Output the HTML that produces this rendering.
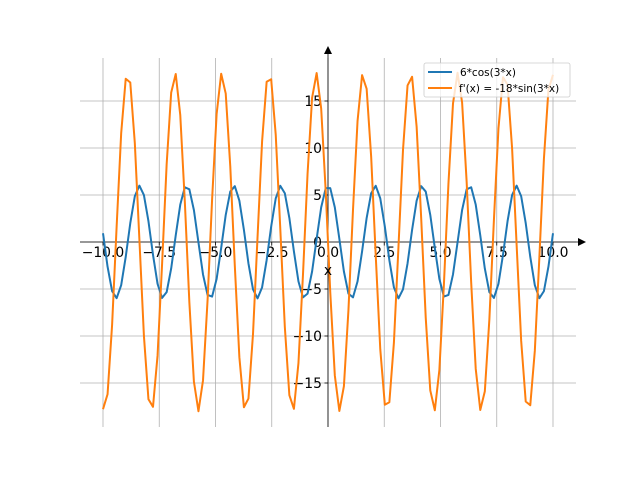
<!DOCTYPE html>
<html><head><meta charset="utf-8"><style>html,body{margin:0;padding:0;background:#fff}svg{display:block}</style></head>
<body>
<svg id="s" width="640" height="480" xmlns="http://www.w3.org/2000/svg" font-family="DejaVu Sans, Liberation Sans, sans-serif">
<defs><clipPath id="c"><rect x="80" y="58" width="496" height="369"/></clipPath></defs>
<g id="grid" stroke="#b0b0b0" stroke-width="0.8"></g>
<g id="axes" stroke="#000" stroke-width="0.8">
<line x1="80" y1="242" x2="580" y2="242"/>
<line x1="328" y1="427" x2="328" y2="53"/>
</g>
<polygon points="586,242 578,238 578,246" fill="#000"/>
<polygon points="328,46 324,54 332,54" fill="#000"/>
<g id="ticks" stroke="#000" stroke-width="0.8"></g>
<g id="labels" font-size="13.9" fill="#000"></g>
<g clip-path="url(#c)" fill="none" stroke-width="2" stroke-linejoin="round">
<polyline id="b" stroke="#1f77b4"/>
<polyline id="o" stroke="#ff7f0e"/>
</g>
<text x="328" y="275" font-size="13.9" text-anchor="middle">x</text>
<rect x="424" y="63" width="146" height="34" rx="2" fill="#fff" fill-opacity="0.8" stroke="#ccc" stroke-width="0.8"/>
<line x1="428" y1="72" x2="452" y2="72" stroke="#1f77b4" stroke-width="2"/>
<line x1="428" y1="88" x2="452" y2="88" stroke="#ff7f0e" stroke-width="2"/>
<text x="460" y="76" font-size="10.5">6*cos(3*x)</text>
<text x="459" y="92" font-size="10.5">f'(x) = -18*sin(3*x)</text>
</svg>
<script>
var NS="http://www.w3.org/2000/svg";
function X(v){return 328+v*22.5}function Y(v){return 242-v*9.4}
function el(p,t,a,txt){var e=document.createElementNS(NS,t);for(var k in a)e.setAttribute(k,a[k]);if(txt!=null)e.textContent=txt;document.getElementById(p).appendChild(e);}
for(var i=-4;i<=4;i++){var v=i*2.5,x=X(v);
el("grid","line",{x1:x,y1:58,x2:x,y2:427});
el("ticks","line",{x1:x,y1:242,x2:x,y2:245.5});
el("labels","text",{x:x,y:257,"text-anchor":"middle"},(v<0?"\u2212":"")+Math.abs(v).toFixed(1));}
for(var j=-3;j<=3;j++){var v=j*5,y=Y(v);
el("grid","line",{x1:80,y1:y,x2:576,y2:y});
el("ticks","line",{x1:328,y1:y,x2:324.5,y2:y});
el("labels","text",{x:322,y:y+5,"text-anchor":"end"},(v<0?"\u2212":"")+Math.abs(v));}
var pb=[],po=[];for(var k=0;k<100;k++){var t=-10+20*k/99;pb.push(X(t).toFixed(2)+","+Y(6*Math.cos(3*t)).toFixed(2));po.push(X(t).toFixed(2)+","+Y(-18*Math.sin(3*t)).toFixed(2));}
document.getElementById("b").setAttribute("points",pb.join(" "));
document.getElementById("o").setAttribute("points",po.join(" "));
</script>
</body></html>
